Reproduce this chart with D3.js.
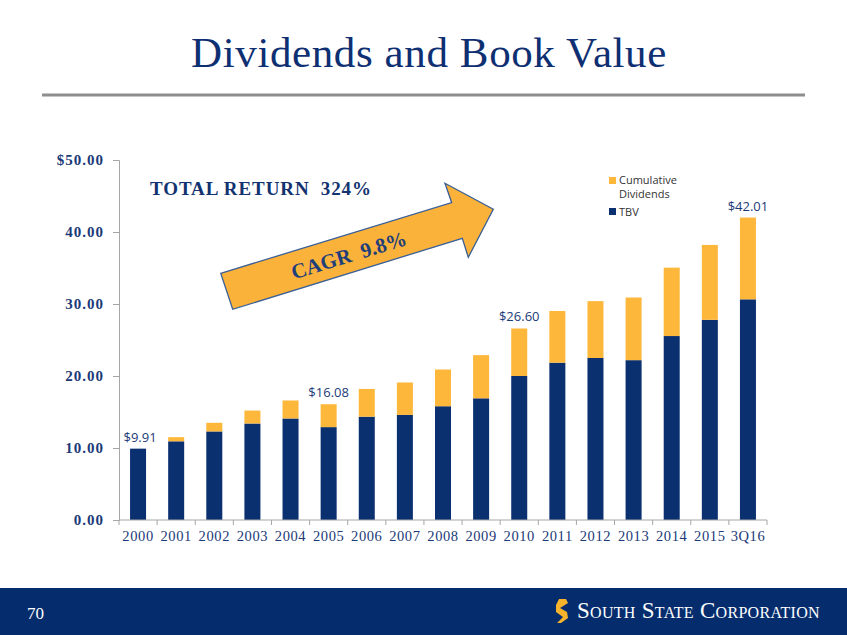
<!DOCTYPE html>
<html><head><meta charset="utf-8">
<script src="https://cdn.jsdelivr.net/npm/d3@7"></script>
<style>
html,body{margin:0;padding:0;background:#fff;}
svg{display:block;}
</style></head>
<body>
<script>
const categories = ["2000","2001","2002","2003","2004","2005","2006","2007","2008","2009","2010","2011","2012","2013","2014","2015","3Q16"];
const tbv       = [9.91,10.93,12.30,13.40,14.10,12.90,14.35,14.60,15.80,16.90,20.00,21.85,22.50,22.20,25.55,27.80,30.65];
const dividends = [0.00,0.57,1.20,1.80,2.50,3.18,3.85,4.50,5.10,6.00,6.60,7.18,7.90,8.70,9.50,10.40,11.36];
const yTicks = [0,10,20,30,40,50];
const totalLabels = {"2000":"$9.91","2005":"$16.08","2010":"$26.60","3Q16":"$42.01"};
const seriesNames = ["Cumulative Dividends","TBV"];

const W = 847, H = 635;
const NAVY = "#0B3070", GOLD = "#FDB73B", TXT = "#1B3A78";
const svg = d3.select("body").append("svg").attr("width",W).attr("height",H);

// Title
svg.append("text").attr("x",429).attr("y",67).attr("text-anchor","middle")
  .attr("font-family","Liberation Serif, serif").attr("font-size",43).attr("fill","#0E2F72")
  .attr("letter-spacing",0.6)
  .text("Dividends and Book Value");
svg.append("line").attr("x1",42).attr("x2",805).attr("y1",95).attr("y2",95)
  .attr("stroke","#8E8E8E").attr("stroke-width",3);

// Scales
const x = d3.scaleBand().domain(categories).range([119,767]).paddingInner(0.58).paddingOuter(0.29);
const y = d3.scaleLinear().domain([0,50]).range([520,160]);

const data = categories.map((c,i)=>({cat:c,tbv:tbv[i],div:dividends[i]}));
const stack = d3.stack().keys(["tbv","div"])(data);
const colors = {tbv:NAVY, div:GOLD};

// Bars
svg.append("g").selectAll("g").data(stack).join("g").attr("fill",d=>colors[d.key])
  .selectAll("rect").data(d=>d).join("rect")
  .attr("x",d=>x(d.data.cat)).attr("width",x.bandwidth())
  .attr("y",d=>y(d[1])).attr("height",d=>y(d[0])-y(d[1]));

// Y axis
const yAxis = d3.axisLeft(y).tickValues(yTicks).tickSize(6).tickPadding(9)
  .tickFormat(d=> d===50 ? "$"+d3.format(".2f")(d) : d3.format(".2f")(d));
const gy = svg.append("g").attr("transform","translate(119,0)").call(yAxis);
gy.select(".domain").attr("stroke","#A6A6A6");
gy.selectAll(".tick line").attr("stroke","#A6A6A6");
gy.selectAll("text").attr("font-family","Liberation Serif, serif").attr("font-size",15)
  .attr("fill",TXT).attr("font-weight","bold").attr("letter-spacing",1);

// X axis
const gx = svg.append("g").attr("transform","translate(0,520)");
gx.append("line").attr("x1",119).attr("x2",767).attr("stroke","#A6A6A6");
const step = x.step();
gx.selectAll("line.t").data(d3.range(categories.length+1)).join("line").attr("class","t")
  .attr("x1",i=>119+i*step).attr("x2",i=>119+i*step).attr("y1",0).attr("y2",5).attr("stroke","#A6A6A6");
gx.selectAll("text").data(categories).join("text")
  .attr("x",d=>x(d)+x.bandwidth()/2).attr("y",21).attr("text-anchor","middle")
  .attr("font-family","Liberation Serif, serif").attr("font-size",14.5).attr("fill",TXT)
  .attr("letter-spacing",0.6)
  .text(d=>d);

// Total labels
svg.append("g").selectAll("text").data(data.filter(d=>totalLabels[d.cat])).join("text")
  .attr("x",d=>x(d.cat)+x.bandwidth()/2 + (d.cat==="2000"?2:0))
  .attr("y",d=>y(d.tbv+d.div)-7).attr("text-anchor","middle")
  .attr("font-family","Open Sans, Liberation Sans, sans-serif").attr("font-size",13).attr("fill",TXT)
  .text(d=>totalLabels[d.cat]);

// Legend
const leg = svg.append("g").attr("font-family","Open Sans, Liberation Sans, sans-serif").attr("font-size",11).attr("fill","#333");
leg.append("rect").attr("x",609).attr("y",177).attr("width",7).attr("height",7).attr("fill",GOLD);
leg.append("text").attr("x",619).attr("y",184).text("Cumulative");
leg.append("text").attr("x",619).attr("y",198).text("Dividends");
leg.append("rect").attr("x",609).attr("y",208).attr("width",7).attr("height",7).attr("fill",NAVY);
leg.append("text").attr("x",619).attr("y",216).text("TBV");

// Total return annotation
svg.append("text").attr("x",150).attr("y",195)
  .attr("font-family","Liberation Serif, serif").attr("font-weight","bold").attr("font-size",19)
  .attr("letter-spacing",0.9)
  .attr("fill","#12336F").attr("xml:space","preserve").text("TOTAL RETURN  324%");

// Arrow annotation
const arrowPts = [[220.7,273.3],[451.7,202.7],[445,183.3],[493.3,209.3],[468.3,257.3],[462.3,238.3],[232.7,309.3]];
svg.append("path").attr("d",d3.line()(arrowPts)+"Z").attr("fill","#FBB23A")
  .attr("stroke","#3A5F96").attr("stroke-width",1.3).attr("stroke-linejoin","miter");
svg.append("text").attr("transform","translate(351,262) rotate(-17)").attr("text-anchor","middle")
  .attr("font-family","Liberation Serif, serif").attr("font-weight","bold").attr("font-size",21)
  .attr("fill","#1F3F7A").attr("xml:space","preserve").text("CAGR  9.8%");

// Footer
svg.append("rect").attr("x",0).attr("y",588).attr("width",W).attr("height",H-588).attr("fill","#052D6E");
svg.append("text").attr("x",27).attr("y",619).attr("font-family","Liberation Serif, serif")
  .attr("font-size",17).attr("fill","#fff").text("70");
const logoS = svg.append("g").attr("transform","translate(555,599)");
logoS.append("path").attr("d","M4,0 L11,0 L13,4 L5,9 L12,13 L13,19 L6,24 L2,24 L8,18 L1,13 L1,6 Z").attr("fill","#F6B42D");
svg.append("text").attr("x",577).attr("y",618).attr("font-family","Liberation Serif, serif")
  .attr("font-size",23).attr("font-variant","small-caps").attr("fill","#fff")
  .attr("letter-spacing",0.3)
  .text("South State Corporation");
</script>
</body></html>
